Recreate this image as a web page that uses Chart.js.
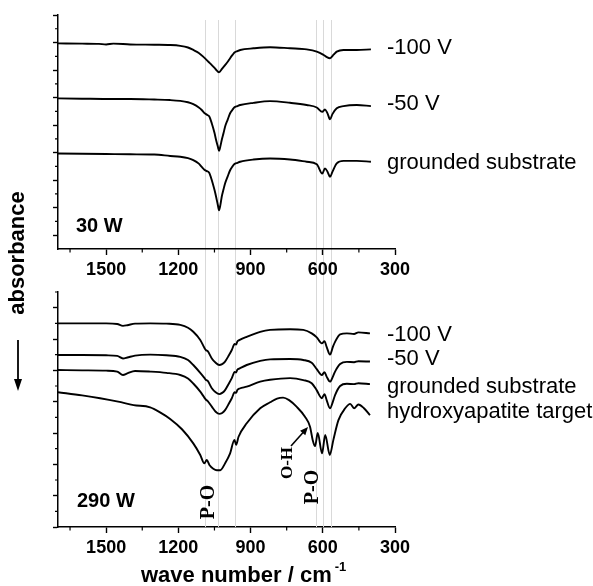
<!DOCTYPE html>
<html><head><meta charset="utf-8">
<script src="https://cdn.jsdelivr.net/npm/chart.js@4.4.1/dist/chart.umd.min.js"></script>
<style>
html,body{margin:0;padding:0;background:#fff;}
#wrap{position:relative;width:593px;height:586px;background:#fff;}
canvas{position:absolute;left:0;top:0;}
</style></head><body>
<div id="wrap"><canvas id="cBot" width="593" height="586"></canvas><canvas id="cTop" width="593" height="586"></canvas></div>
<script>
// ---------- data ----------
const xTickValues = [1500, 1200, 900, 600, 300];
const xMinorValues = [1650, 1350, 1050, 750, 450];
const refLineWn = [1090, 1035, 966, 629, 600, 567];

// 30 W panel
const top100Wn  = [1700,1600,1530,1500,1470,1400,1300,1234,1192,1160,1138,1115,1096,1075,1061,1045,1031,1018,1006,995,985,975,968,955,943,888,819,736,667,625,597,585,570,555,542,514,459,400];
const top100Abs = [6.97,6.96,6.95,6.93,6.96,6.93,6.92,6.91,6.88,6.82,6.73,6.62,6.48,6.30,6.18,6.03,5.92,6.05,6.18,6.30,6.43,6.55,6.63,6.69,6.73,6.79,6.83,6.79,6.75,6.67,6.55,6.48,6.43,6.56,6.67,6.73,6.73,6.75];
const top50Wn   = [1700,1600,1500,1400,1300,1234,1192,1160,1138,1115,1103,1092,1082,1072,1061,1050,1043,1036,1031,1025,1020,1012,1006,995,985,975,968,955,943,888,819,736,667,625,602,591,580,570,560,542,514,459,400];
const top50Abs  = [4.97,4.96,4.95,4.95,4.93,4.91,4.88,4.83,4.76,4.64,4.55,4.44,4.38,4.32,4.06,3.72,3.45,3.22,3.07,3.25,3.45,3.72,3.94,4.20,4.43,4.56,4.64,4.69,4.73,4.81,4.87,4.81,4.73,4.64,4.48,4.57,4.42,4.21,4.40,4.61,4.69,4.73,4.69];
const topGndWn  = [1700,1600,1500,1400,1300,1234,1192,1160,1138,1115,1103,1092,1082,1072,1061,1050,1043,1036,1031,1025,1020,1012,1006,995,985,975,968,955,943,888,819,736,667,625,602,591,580,570,560,542,514,459,400];
const topGndAbs = [2.97,2.96,2.95,2.94,2.93,2.88,2.85,2.80,2.73,2.60,2.48,2.38,2.33,2.27,2.00,1.65,1.39,1.10,0.91,1.12,1.39,1.68,1.88,2.14,2.36,2.50,2.58,2.63,2.67,2.75,2.79,2.75,2.67,2.58,2.24,2.43,2.30,2.12,2.30,2.61,2.70,2.70,2.67];

// 290 W panel
const bot100Wn  = [1700,1600,1500,1454,1430,1412,1380,1317,1250,1192,1160,1138,1109,1092,1085,1078,1061,1045,1030,1018,1006,990,978,966,960,955,945,916,860,819,736,681,646,625,604,593,584,570,558,549,528,500,470,452,404];
const bot100Abs = [5.50,5.50,5.50,5.48,5.42,5.44,5.49,5.50,5.49,5.45,5.36,5.23,4.97,4.72,4.64,4.61,4.38,4.24,4.17,4.20,4.28,4.48,4.65,4.84,4.82,4.92,4.97,5.07,5.23,5.29,5.31,5.29,5.18,5.05,4.86,4.93,4.75,4.50,4.75,4.91,5.15,5.18,5.16,5.21,5.18];
const bot50Wn   = [1700,1600,1500,1454,1430,1412,1380,1317,1250,1192,1160,1138,1109,1092,1085,1078,1061,1045,1030,1018,1006,990,978,966,960,955,945,916,860,819,736,681,646,625,604,593,584,570,558,549,528,500,470,452,404];
const bot50Abs  = [4.49,4.49,4.48,4.46,4.38,4.41,4.47,4.50,4.48,4.43,4.33,4.17,3.92,3.76,3.69,3.66,3.43,3.30,3.24,3.28,3.37,3.58,3.75,3.95,3.93,4.02,4.06,4.17,4.30,4.35,4.36,4.33,4.24,4.04,3.85,3.94,3.80,3.64,3.80,3.96,4.20,4.27,4.26,4.29,4.28];
const botGndWn  = [1700,1600,1500,1454,1430,1412,1380,1317,1250,1192,1160,1138,1109,1092,1085,1078,1061,1045,1030,1018,1006,990,978,966,960,955,945,916,860,819,736,681,646,625,604,593,584,570,558,549,528,500,470,452,404];
const botGndAbs = [4.01,4.00,3.99,3.96,3.85,3.90,3.98,3.96,3.92,3.85,3.74,3.58,3.32,3.13,3.06,3.02,2.84,2.68,2.61,2.64,2.73,2.94,3.11,3.30,3.28,3.37,3.42,3.48,3.64,3.70,3.75,3.69,3.59,3.36,3.11,3.24,3.05,2.79,3.00,3.21,3.50,3.57,3.56,3.59,3.56];
const botHapWn  = [1700,1600,1525,1450,1386,1317,1276,1234,1185,1138,1109,1092,1082,1071,1055,1040,1026,1006,985,967,960,950,916,860,819,790,765,740,709,674,653,642,632,621,603,590,571,556,535,507,486,470,452,430,404];
const botHapAbs = [3.30,3.20,3.11,3.00,2.89,2.82,2.66,2.45,2.12,1.67,1.30,1.03,1.14,0.98,0.86,0.81,0.81,1.03,1.35,1.78,1.62,1.88,2.31,2.79,2.98,3.10,3.13,3.05,2.84,2.52,2.20,1.78,1.58,2.00,1.35,1.94,1.30,1.78,2.41,2.79,2.93,2.79,2.91,2.80,2.57];

const topLabels = ['-100 V', '-50 V', 'grounded substrate'];
const botLabels = ['-100 V', '-50 V', 'grounded substrate', 'hydroxyapatite target'];

// ---------- helpers ----------
const SANS = '"Liberation Sans", Arial, Helvetica, sans-serif';
const SERIF = '"Liberation Serif", "Times New Roman", serif';
function pts(wn, ab){ return wn.map((w,i)=>({x:w, y:ab[i]})); }
function ds(wn, ab){
  return {data: pts(wn, ab), borderColor:'#000', borderWidth:1.9, pointRadius:0,
          fill:false, cubicInterpolationMode:'monotone'};
}
function xScale(h){
  return {
    type:'linear', reverse:true, min:300, max:1700,
    afterBuildTicks: s => { s.ticks = xTickValues.map(v=>({value:v})); },
    afterFit: s => { s.height = h; },
    ticks:{color:'#000', font:{family:SANS, size:18, weight:'bold'}, padding:4, maxRotation:0, autoSkip:false,
           callback: v => String(v)},
    grid:{display:true, drawOnChartArea:false, drawTicks:true, tickLength:6, tickColor:'#000', tickWidth:1.4},
    border:{display:true, color:'#000', width:1.5}
  };
}
function yScale(min, max, major){
  return {
    type:'linear', min:min, max:max,
    afterBuildTicks: s => { s.ticks = major.map(v=>({value:v})); },
    afterFit: s => { s.width = 58; },
    ticks:{display:false},
    grid:{display:true, drawOnChartArea:false, drawTicks:true, tickLength:5, tickColor:'#000', tickWidth:1.4},
    border:{display:true, color:'#000', width:1.5}
  };
}
function minorTicks(chart, yMinor){
  const {ctx, chartArea:a, scales:{x, y}} = chart;
  ctx.save(); ctx.strokeStyle='#000'; ctx.lineWidth=1.2; ctx.beginPath();
  xMinorValues.forEach(v=>{ const px=x.getPixelForValue(v); ctx.moveTo(px,a.bottom); ctx.lineTo(px,a.bottom+3.5); });
  yMinor.forEach(v=>{ const py=y.getPixelForValue(v); ctx.moveTo(a.left,py); ctx.lineTo(a.left-3,py); });
  ctx.stroke(); ctx.restore();
}
function seriesLabels(chart, labels, offsets){
  const {ctx, chartArea:a} = chart;
  ctx.save(); ctx.fillStyle='#000'; ctx.font='22px '+SANS; ctx.textAlign='left'; ctx.textBaseline='middle';
  chart.data.datasets.forEach((d,i)=>{
    const last = d.data[d.data.length-1];
    const py = chart.scales.y.getPixelForValue(last.y) + offsets[i];
    ctx.fillText(labels[i], a.right-8, py);
  });
  ctx.restore();
}
function arrow(ctx, x1, y1, x2, y2, len, half){
  const ang = Math.atan2(y2-y1, x2-x1);
  ctx.beginPath(); ctx.moveTo(x1,y1);
  ctx.lineTo(x2 - Math.cos(ang)*len*0.8, y2 - Math.sin(ang)*len*0.8); ctx.stroke();
  ctx.beginPath(); ctx.moveTo(x2,y2);
  ctx.lineTo(x2 - Math.cos(ang)*len + Math.sin(ang)*half, y2 - Math.sin(ang)*len - Math.cos(ang)*half);
  ctx.lineTo(x2 - Math.cos(ang)*len - Math.sin(ang)*half, y2 - Math.sin(ang)*len + Math.cos(ang)*half);
  ctx.closePath(); ctx.fill();
}
function rotText(ctx, txt, x, y, font){
  ctx.save(); ctx.translate(x,y); ctx.rotate(-Math.PI/2);
  ctx.font=font; ctx.textAlign='center'; ctx.textBaseline='middle'; ctx.fillText(txt,0,0); ctx.restore();
}

// ---------- top panel (30 W) ----------
const topPlugin = {
  id:'topDeco',
  afterDraw(chart){
    const {ctx, chartArea:a} = chart;
    minorTicks(chart, [0.5,1.5,2.5,3.5,4.5,5.5,6.5,7.5]);
    seriesLabels(chart, topLabels, [-1,-2,1]);
    ctx.save(); ctx.fillStyle='#000'; ctx.font='bold 20px '+SANS; ctx.textBaseline='middle';
    ctx.fillText('30 W', a.left+18, a.bottom-23); ctx.restore();
  }
};
new Chart(document.getElementById('cTop'), {
  type:'line',
  data:{datasets:[ds(top100Wn, top100Abs), ds(top50Wn, top50Abs), ds(topGndWn, topGndAbs)]},
  options:{
    responsive:false, animation:false, devicePixelRatio:1,
    layout:{padding:{left:0, top:15, right:198, bottom:297}},
    plugins:{legend:{display:false}, tooltip:{enabled:false}},
    scales:{x:xScale(40), y:yScale(-0.5, 8, [0,1,2,3,4,5,6,7,8])}
  },
  plugins:[topPlugin]
});

// ---------- bottom panel (290 W) ----------
const botPlugin = {
  id:'botDeco',
  beforeDatasetsDraw(chart){
    const {ctx, chartArea:a, scales:{x}} = chart;
    ctx.save(); ctx.strokeStyle='#d9d9d9'; ctx.lineWidth=1; ctx.beginPath();
    refLineWn.forEach(v=>{ const px=Math.round(x.getPixelForValue(v))+0.5; ctx.moveTo(px,20); ctx.lineTo(px,a.bottom); });
    ctx.stroke(); ctx.restore();
  },
  afterDraw(chart){
    const {ctx, chartArea:a} = chart;
    minorTicks(chart, [-0.5,0.5,1.5,2.5,3.5,4.5,5.5,6.5]);
    seriesLabels(chart, botLabels, [2,-3,3,-3]);
    ctx.save(); ctx.fillStyle='#000'; ctx.strokeStyle='#000';
    ctx.font='bold 20px '+SANS; ctx.textBaseline='middle';
    ctx.fillText('290 W', a.left+19, a.bottom-26);
    // band annotations
    rotText(ctx, 'P-O', 209, 502, 'bold 20px '+SERIF);
    rotText(ctx, 'P-O', 313, 487, 'bold 20px '+SERIF);
    rotText(ctx, 'O-H', 288, 463, 'bold 17px '+SERIF);
    ctx.lineWidth=1.6;
    arrow(ctx, 291, 446, 308, 427, 8, 3.5);
    // y title with arrow
    rotText(ctx, 'absorbance', 18, 253, 'bold 22px '+SANS);
    ctx.lineWidth=1.8;
    arrow(ctx, 18, 340, 18, 391, 12, 4);
    // x title
    ctx.font='bold 22px '+SANS; ctx.textAlign='left'; ctx.textBaseline='alphabetic';
    const t='wave number / cm';
    ctx.fillText(t, 141, 582);
    const w=ctx.measureText(t).width;
    ctx.font='bold 13px '+SANS;
    ctx.fillText('-1', 141+w+3, 571);
    ctx.restore();
  }
};
new Chart(document.getElementById('cBot'), {
  type:'line',
  data:{datasets:[ds(bot100Wn, bot100Abs), ds(bot50Wn, bot50Abs), ds(botGndWn, botGndAbs), ds(botHapWn, botHapAbs)]},
  options:{
    responsive:false, animation:false, devicePixelRatio:1,
    layout:{padding:{left:0, top:292, right:198, bottom:0}},
    plugins:{legend:{display:false}, tooltip:{enabled:false}},
    scales:{x:xScale(59), y:yScale(-1, 6.5, [-1,0,1,2,3,4,5,6])}
  },
  plugins:[botPlugin]
});
</script></body></html>
